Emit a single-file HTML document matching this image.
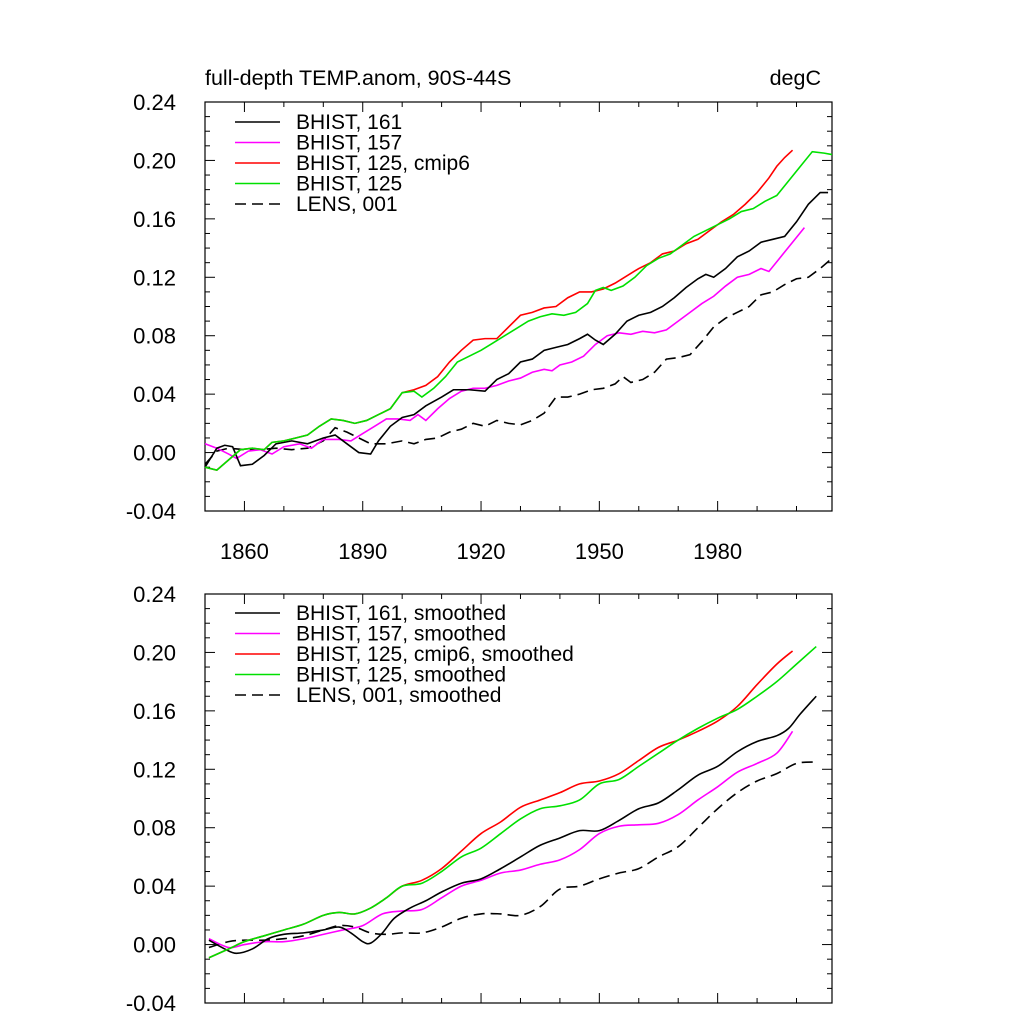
<!DOCTYPE html>
<html><head><meta charset="utf-8"><style>
body{margin:0;background:#fff}
svg text{font-family:"Liberation Sans",sans-serif;fill:#000}
</style></head><body>
<svg id="c" width="1024" height="1024" xmlns="http://www.w3.org/2000/svg"></svg>
<script>
// ---- data (top panel) ----
const b161Y=[1850,1853,1855,1857,1859,1862,1865,1868,1872,1876,1880,1883,1886,1889,1892,1894,1897,1900,1903,1906,1910,1913,1917,1921,1924,1927,1930,1933,1936,1939,1942,1945,1947,1949,1951,1954,1957,1960,1963,1966,1969,1972,1975,1977,1979,1982,1985,1988,1991,1994,1997,2000,2003,2006,2008];
const b161V=[-0.010,0.003,0.005,0.004,-0.009,-0.008,-0.002,0.006,0.008,0.006,0.010,0.012,0.006,0.000,-0.001,0.008,0.018,0.024,0.026,0.032,0.038,0.043,0.043,0.042,0.050,0.054,0.062,0.064,0.070,0.072,0.074,0.078,0.081,0.077,0.074,0.081,0.090,0.094,0.096,0.100,0.106,0.113,0.119,0.122,0.120,0.126,0.134,0.138,0.144,0.146,0.148,0.158,0.170,0.178,0.178];
const b157Y=[1850,1853,1856,1858,1861,1864,1867,1870,1874,1877,1880,1884,1887,1890,1893,1896,1899,1902,1904,1906,1909,1912,1915,1918,1921,1924,1927,1930,1933,1936,1938,1940,1943,1946,1949,1952,1955,1958,1961,1964,1967,1970,1973,1976,1979,1982,1985,1988,1991,1993,1996,1999,2002];
const b157V=[0.006,0.003,-0.001,-0.004,0.001,0.002,-0.001,0.004,0.006,0.003,0.009,0.009,0.008,0.013,0.018,0.023,0.023,0.022,0.026,0.022,0.030,0.037,0.042,0.044,0.044,0.046,0.049,0.051,0.055,0.057,0.056,0.060,0.062,0.066,0.074,0.080,0.082,0.081,0.083,0.082,0.084,0.090,0.096,0.102,0.107,0.114,0.120,0.122,0.126,0.124,0.134,0.144,0.154];
const g125Y=[1850,1853,1856,1859,1862,1865,1867,1870,1873,1876,1879,1882,1885,1888,1891,1894,1897,1900,1903,1905,1908,1911,1914,1917,1920,1923,1926,1929,1932,1935,1938,1941,1944,1947,1949,1951,1953,1956,1959,1962,1965,1968,1971,1974,1977,1980,1983,1986,1989,1992,1995,1998,2001,2004,2007,2009];
const g125V=[-0.010,-0.012,-0.005,0.002,0.003,0.002,0.007,0.008,0.010,0.012,0.018,0.023,0.022,0.020,0.022,0.026,0.030,0.041,0.042,0.038,0.044,0.052,0.062,0.066,0.070,0.075,0.080,0.085,0.090,0.093,0.095,0.094,0.096,0.102,0.111,0.113,0.111,0.114,0.120,0.128,0.133,0.136,0.142,0.148,0.152,0.156,0.160,0.165,0.167,0.172,0.176,0.186,0.196,0.206,0.205,0.204];
const r125Y=[1850,1853,1856,1859,1862,1865,1867,1870,1873,1876,1879,1882,1885,1888,1891,1894,1897,1900,1903,1906,1909,1912,1915,1918,1921,1924,1927,1930,1933,1936,1939,1942,1945,1948,1951,1954,1957,1960,1963,1966,1969,1972,1975,1978,1981,1984,1987,1990,1993,1995,1997,1999];
const r125V=[-0.010,-0.012,-0.005,0.002,0.003,0.002,0.007,0.008,0.010,0.012,0.018,0.023,0.022,0.020,0.022,0.026,0.030,0.041,0.043,0.046,0.052,0.062,0.070,0.077,0.078,0.078,0.086,0.094,0.096,0.099,0.100,0.106,0.110,0.110,0.112,0.116,0.121,0.126,0.130,0.136,0.138,0.143,0.146,0.152,0.158,0.163,0.170,0.178,0.188,0.196,0.202,0.207];
const lensY=[1850,1853,1856,1860,1864,1868,1872,1876,1880,1883,1886,1889,1892,1896,1900,1903,1906,1909,1912,1915,1918,1921,1924,1927,1930,1933,1936,1939,1942,1945,1948,1951,1954,1956,1958,1961,1964,1967,1970,1973,1976,1979,1982,1985,1988,1991,1994,1997,2000,2003,2006,2009];
const lensV=[-0.008,0.001,0.003,0.002,0.002,0.003,0.002,0.003,0.008,0.017,0.014,0.010,0.006,0.006,0.008,0.006,0.009,0.010,0.014,0.016,0.020,0.018,0.022,0.020,0.019,0.022,0.027,0.038,0.038,0.040,0.043,0.044,0.047,0.052,0.048,0.050,0.055,0.064,0.065,0.067,0.076,0.086,0.092,0.096,0.100,0.108,0.110,0.115,0.119,0.120,0.126,0.133];
// ---- data (bottom panel, smoothed) ----
const sB161Y=[1851,1855,1858,1862,1866,1870,1875,1880,1884,1887,1890,1892,1895,1898,1902,1906,1910,1915,1920,1925,1930,1935,1940,1945,1950,1955,1960,1965,1970,1975,1980,1985,1990,1995,1998,2001,2005];
const sB161V=[0.003,-0.003,-0.006,-0.003,0.004,0.007,0.008,0.010,0.012,0.008,0.002,0.001,0.008,0.018,0.025,0.030,0.036,0.042,0.045,0.052,0.060,0.068,0.073,0.078,0.078,0.085,0.093,0.097,0.106,0.116,0.122,0.132,0.139,0.143,0.148,0.158,0.170];
const sB157Y=[1851,1856,1860,1865,1870,1875,1880,1885,1890,1895,1900,1905,1910,1915,1920,1925,1930,1935,1940,1945,1950,1955,1960,1965,1970,1975,1980,1985,1990,1995,1999];
const sB157V=[0.004,-0.002,0.000,0.002,0.002,0.004,0.007,0.010,0.013,0.021,0.023,0.024,0.032,0.040,0.044,0.049,0.051,0.055,0.058,0.065,0.076,0.081,0.082,0.083,0.089,0.099,0.108,0.118,0.124,0.131,0.146];
const sG125Y=[1851,1856,1860,1865,1870,1875,1880,1884,1888,1892,1896,1900,1905,1910,1915,1920,1925,1930,1935,1940,1945,1950,1955,1960,1965,1970,1975,1980,1985,1990,1995,2000,2005];
const sG125V=[-0.009,-0.003,0.002,0.006,0.010,0.014,0.020,0.022,0.021,0.025,0.032,0.040,0.042,0.050,0.060,0.066,0.076,0.086,0.093,0.095,0.099,0.110,0.113,0.122,0.131,0.140,0.148,0.155,0.161,0.170,0.180,0.192,0.204];
const sR125Y=[1851,1856,1860,1865,1870,1875,1880,1884,1888,1892,1896,1900,1905,1910,1915,1920,1925,1930,1935,1940,1945,1950,1955,1960,1965,1970,1975,1980,1985,1990,1995,1999];
const sR125V=[-0.009,-0.003,0.002,0.006,0.010,0.014,0.020,0.022,0.021,0.025,0.032,0.040,0.044,0.052,0.064,0.076,0.084,0.094,0.099,0.104,0.110,0.112,0.117,0.126,0.135,0.140,0.146,0.153,0.163,0.178,0.192,0.201];
const sLensY=[1851,1856,1860,1865,1870,1875,1880,1884,1888,1892,1896,1900,1905,1910,1915,1920,1925,1930,1935,1940,1945,1950,1955,1960,1965,1970,1975,1980,1985,1990,1995,2000,2005];
const sLensV=[-0.002,0.002,0.003,0.003,0.004,0.006,0.010,0.013,0.012,0.008,0.007,0.008,0.008,0.012,0.018,0.021,0.021,0.020,0.026,0.038,0.040,0.045,0.049,0.052,0.060,0.067,0.080,0.093,0.104,0.112,0.117,0.124,0.125];
const yTicks=["-0.04","0.00","0.04","0.08","0.12","0.16","0.20","0.24"];
const xTicks=[1860,1890,1920,1950,1980];

const svg=document.getElementById('c');const NS='http://www.w3.org/2000/svg';
function mk(t,a,p){const e=document.createElementNS(NS,t);for(const k in a)e.setAttribute(k,a[k]);(p||svg).appendChild(e);return e;}
const X0=205,X1=832,Y0=1850,Y1=2009;
function xs(yr){return X0+(yr-Y0)/(Y1-Y0)*(X1-X0);}
function panel(top,name,showX){
  const bot=top+409;
  const ys=v=>bot-(v+0.04)/0.28*(bot-top);
  const g=mk('g',{});
  
  
  const fr=mk('rect',{x:X0,y:top,width:X1-X0,height:bot-top,fill:'none',stroke:'#000','stroke-width':1.2},g);
  
  
  for(let i=0;i<=28;i++){const v=-0.04+i*0.01;const y=ys(v);const L=(i%4==0)?10:5;
    mk('line',{x1:X0,x2:X0+L,y1:y,y2:y,stroke:'#000'},g);mk('line',{x1:X1,x2:X1-L,y1:y,y2:y,stroke:'#000'},g);}
  yTicks.forEach(t=>{const tx=mk('text',{x:176,y:ys(parseFloat(t))+8,'font-size':22,'text-anchor':'end'},g);tx.textContent=t;
    
    });
  for(let yr=1850;yr<=2000;yr+=10){const x=xs(yr);const L=((yr-1860)%30==0)?10:5;
    mk('line',{x1:x,x2:x,y1:bot,y2:bot-L,stroke:'#000'},g);mk('line',{x1:x,x2:x,y1:top,y2:top+L,stroke:'#000'},g);}
  if(showX)xTicks.forEach(t=>{const tx=mk('text',{x:xs(t),y:bot+48,'font-size':22,'text-anchor':'middle'},g);tx.textContent=t;
    
    });
  return {g,ys};
}
function series(P,yrs,vals,color,dash,name,smooth){
  const pts=yrs.map((y,i)=>[xs(y),P.ys(vals[i])]);
  let d='M'+pts[0][0]+' '+pts[0][1];
  if(smooth){for(let i=0;i<pts.length-1;i++){const p0=pts[Math.max(0,i-1)],p1=pts[i],p2=pts[i+1],p3=pts[Math.min(pts.length-1,i+2)];
    d+=' C'+(p1[0]+(p2[0]-p0[0])/6)+' '+(p1[1]+(p2[1]-p0[1])/6)+' '+(p2[0]-(p3[0]-p1[0])/6)+' '+(p2[1]-(p3[1]-p1[1])/6)+' '+p2[0]+' '+p2[1];}}
  else pts.slice(1).forEach(p=>d+=' L'+p[0]+' '+p[1]);
  const a={d:d,fill:'none',stroke:color,'stroke-width':1.6};if(dash)a['stroke-dasharray']='11,6';
  const e=mk('path',a,P.g);
  
  
}
function legend(P,y0,labels){
  const cols=['#000','#ff00ff','#ff0000','#00e000','#000'];
  labels.forEach((l,i)=>{const y=y0+i*20.5;const a={x1:235,x2:280,y1:y,y2:y,stroke:cols[i],'stroke-width':1.6};if(i==4)a['stroke-dasharray']='11,6';
    mk('line',a,P.g);const t=mk('text',{x:296,y:y+7,'font-size':21},P.g);t.textContent=l;
    
    });
}
const T=panel(102,'top-panel',true);
const t1=mk('text',{x:205,y:85,'font-size':21.5});t1.textContent='full-depth TEMP.anom, 90S-44S';


const t2=mk('text',{x:821,y:85,'font-size':21.5,'text-anchor':'end'});t2.textContent='degC';


series(T,lensY,lensV,'#000',true,'line-lens-001');
series(T,b157Y,b157V,'#ff00ff',false,'line-bhist-157');
series(T,b161Y,b161V,'#000',false,'line-bhist-161');
series(T,r125Y,r125V,'#ff0000',false,'line-bhist-125-cmip6');
series(T,g125Y,g125V,'#00e000',false,'line-bhist-125');
legend(T,122,['BHIST, 161','BHIST, 157','BHIST, 125, cmip6','BHIST, 125','LENS, 001']);
const B=panel(594,'bottom-panel',false);
series(B,sLensY,sLensV,'#000',true,'smoothed-lens-001',true);
series(B,sB157Y,sB157V,'#ff00ff',false,'smoothed-bhist-157',true);
series(B,sB161Y,sB161V,'#000',false,'smoothed-bhist-161',true);
series(B,sR125Y,sR125V,'#ff0000',false,'smoothed-bhist-125-cmip6',true);
series(B,sG125Y,sG125V,'#00e000',false,'smoothed-bhist-125',true);
legend(B,613,['BHIST, 161, smoothed','BHIST, 157, smoothed','BHIST, 125, cmip6, smoothed','BHIST, 125, smoothed','LENS, 001, smoothed']);
</script>
</body></html>
